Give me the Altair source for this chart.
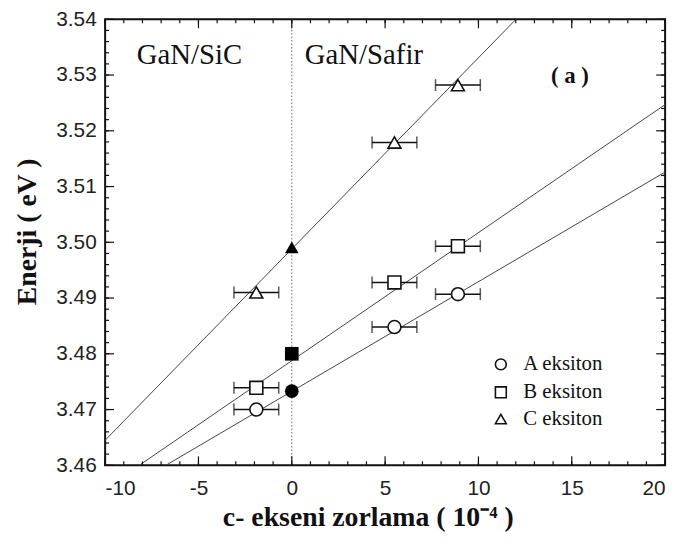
import altair as alt
import pandas as pd

# ---- data ----
series_names = ["A eksiton", "B eksiton", "C eksiton"]
shapes = ["circle", "square", "triangle-up"]

open_x = [-1.9, 5.5, 8.9]
open_A = [3.4700, 3.4848, 3.4907]
open_B = [3.4739, 3.4928, 3.4993]
open_C = [3.4910, 3.5179, 3.5282]
x_err = 1.2

filled_x = [0, 0, 0]
filled_y = [3.4733, 3.4800, 3.4991]

line_x = [-10, 20]
line_A = [3.4536, 3.5126]
line_B = [3.4558, 3.5247]
line_C = [3.4645, 3.5674]

x_major = [-10, -5, 0, 5, 10, 15, 20]
x_minor = list(range(-10, 21))
y_major = [3.46, 3.47, 3.48, 3.49, 3.50, 3.51, 3.52, 3.53, 3.54]
y_minor = [round(3.46 + 0.002 * i, 3) for i in range(41)]

notes_text = ["GaN/SiC", "GaN/Safir"]
notes_x = [-8.3, 0.7]
notes_y = [3.5335, 3.5335]
panel_label = "( a )"
panel_x = [14.9]
panel_y = [3.5299]

# legend entries placed in data space
legend_sym_x = 11.2
legend_lab_x = 12.4
legend_y = [3.4781, 3.4731, 3.4683]

W, H = 565, 450
XD = [-10, 20]
YD = [3.46, 3.54]

# ---- tables ----
rows = []
for name, ys in zip(series_names, [open_A, open_B, open_C]):
    for x, y in zip(open_x, ys):
        rows.append({"series": name, "x": x, "y": y, "lo": x - x_err, "hi": x + x_err})
open_df = pd.DataFrame(rows)
filled_df = pd.DataFrame({"series": series_names, "x": filled_x, "y": filled_y})
lrows = []
for name, ys in zip(series_names, [line_A, line_B, line_C]):
    for x, y in zip(line_x, ys):
        lrows.append({"series": name, "x": x, "y": y})
line_df = pd.DataFrame(lrows)
leg_df = pd.DataFrame({"series": series_names, "x": [legend_sym_x] * 3,
                       "lx": [legend_lab_x] * 3, "y": legend_y})

xs = alt.Scale(domain=XD, nice=False, zero=False)
ys_ = alt.Scale(domain=YD, nice=False, zero=False)
shape_scale = alt.Scale(domain=series_names, range=shapes)

lab_font = "Liberation Sans"
ser_font = "Liberation Serif"

x_axis = alt.Axis(values=x_major, format="d", title="c- ekseni zorlama ( 10⁻⁴ )",
                  labelExpr="replace(datum.label, '−', '-')",
                  titleFont=ser_font, titleFontSize=28, titleFontWeight="bold",
                  titleColor="#111", titlePadding=6, titleX=265,
                  labelFont=lab_font, labelFontSize=21, labelColor="#222",
                  labelPadding=12, ticks=False, domain=False, grid=False)
y_axis = alt.Axis(values=y_major, format=".2f", title="Enerji ( eV )",
                  titleFont=ser_font, titleFontSize=28, titleFontWeight="bold",
                  titleColor="#111", titlePadding=14, titleY=214,
                  labelFont=lab_font, labelFontSize=21, labelColor="#222",
                  labelPadding=9, ticks=False, domain=False, grid=False)

base_x = alt.X("x:Q", scale=xs, axis=x_axis)
base_y = alt.Y("y:Q", scale=ys_, axis=y_axis)

lines = alt.Chart(line_df).mark_line(color="#444", strokeWidth=1, clip=True).encode(
    x=base_x, y=base_y, detail="series:N")

zero_line = alt.Chart(pd.DataFrame({"x": [0]})).mark_rule(
    color="#666", strokeDash=[1.5, 2], strokeWidth=1).encode(x=alt.X("x:Q", scale=xs))

bars = alt.Chart(open_df).mark_rule(color="#111", strokeWidth=1.5).encode(
    x=alt.X("lo:Q", scale=xs), x2="hi:Q", y=alt.Y("y:Q", scale=ys_))
cap_lo = alt.Chart(open_df).mark_tick(orient="vertical", color="#111", size=12, thickness=1.5).encode(
    x=alt.X("lo:Q", scale=xs), y=alt.Y("y:Q", scale=ys_))
cap_hi = alt.Chart(open_df).mark_tick(orient="vertical", color="#111", size=12, thickness=1.5).encode(
    x=alt.X("hi:Q", scale=xs), y=alt.Y("y:Q", scale=ys_))

open_pts = alt.Chart(open_df).mark_point(fill="white", stroke="#111", strokeWidth=1.6,
                                         size=170, opacity=1, fillOpacity=1).encode(
    x=alt.X("x:Q", scale=xs), y=alt.Y("y:Q", scale=ys_),
    shape=alt.Shape("series:N", scale=shape_scale, legend=None))

filled_pts = alt.Chart(filled_df).mark_point(filled=True, color="#000", size=190, opacity=1).encode(
    x=alt.X("x:Q", scale=xs), y=alt.Y("y:Q", scale=ys_),
    shape=alt.Shape("series:N", scale=shape_scale, legend=None))

leg_sym = alt.Chart(leg_df).mark_point(fill="white", stroke="#111", strokeWidth=1.6,
                                       size=120, opacity=1, fillOpacity=1).encode(
    x=alt.X("x:Q", scale=xs), y=alt.Y("y:Q", scale=ys_),
    shape=alt.Shape("series:N", scale=shape_scale, legend=None))
leg_txt = alt.Chart(leg_df).mark_text(align="left", baseline="middle", font=ser_font,
                                      fontSize=21, color="#111").encode(
    x=alt.X("lx:Q", scale=xs), y=alt.Y("y:Q", scale=ys_), text="series:N")

notes = alt.Chart(pd.DataFrame({"t": notes_text, "x": notes_x, "y": notes_y})).mark_text(
    align="left", baseline="middle", font=ser_font, fontSize=29, color="#111").encode(
    x=alt.X("x:Q", scale=xs), y=alt.Y("y:Q", scale=ys_), text="t:N")
panel = alt.Chart(pd.DataFrame({"t": [panel_label], "x": panel_x, "y": panel_y})).mark_text(
    align="center", baseline="middle", font=ser_font, fontSize=23, fontWeight="bold", color="#111").encode(
    x=alt.X("x:Q", scale=xs), y=alt.Y("y:Q", scale=ys_), text="t:N")

# inward ticks on all four sides
def xticks(vals, length, top):
    df = pd.DataFrame({"x": vals})
    y0, y1 = (0, length) if top else (H, H - length)
    return alt.Chart(df).mark_rule(color="#111", strokeWidth=1.2).encode(
        x=alt.X("x:Q", scale=xs), y=alt.value(y0), y2=alt.value(y1))

def yticks(vals, length, right):
    df = pd.DataFrame({"y": vals})
    x0, x1 = (W, W - length) if right else (0, length)
    return alt.Chart(df).mark_rule(color="#111", strokeWidth=1.2).encode(
        y=alt.Y("y:Q", scale=ys_), x=alt.value(x0), x2=alt.value(x1))

ticks = [xticks(x_minor, 4, False), xticks(x_minor, 4, True),
         xticks(x_major, 9, False), xticks(x_major, 9, True),
         yticks(y_minor, 4, False), yticks(y_minor, 4, True),
         yticks(y_major, 9, False), yticks(y_major, 9, True)]

chart = alt.layer(zero_line, lines, bars, cap_lo, cap_hi, open_pts, filled_pts,
                  leg_sym, leg_txt, notes, panel, *ticks).properties(
    width=W, height=H,
    autosize=alt.AutoSizeParams(type="none"),
    padding={"left": 98, "top": 9, "right": 12, "bottom": 75},
).configure_view(stroke="#111", strokeWidth=2)

chart.save("out.html", embed_options={"renderer": "svg", "actions": False})
